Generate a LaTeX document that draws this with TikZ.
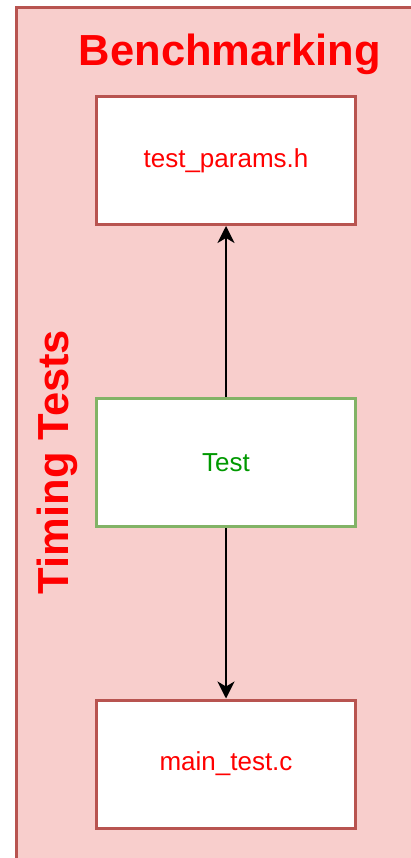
\documentclass[tikz,border=0pt]{standalone}
\usepackage{fontspec}
\setmainfont{Liberation Sans}
\usetikzlibrary{arrows.meta}

\definecolor{grpfill}{HTML}{F8CECC}
\definecolor{grpline}{HTML}{B85450}
\definecolor{okline}{HTML}{82B366}
\definecolor{oktext}{HTML}{009900}

\tikzset{
  filebox/.style={draw=grpline, fill=white, line width=3pt, minimum width=259pt,
    minimum height=128pt, text=red, font=\fontsize{26}{30}\selectfont},
  testbox/.style={filebox, draw=okline, text=oktext},
  link/.style={line width=1.8pt, -{Stealth[length=17pt,width=17pt,inset=5pt]}}
}

\begin{document}
\begin{tikzpicture}[x=1pt,y=-1pt]

\useasboundingbox (0,0) rectangle (411,858);
\clip (0,0) rectangle (411,858);

\draw[grpline, fill=grpfill, line width=3pt] (16.5,7.5) rectangle (440,890);

\node[text=red, font=\bfseries\fontsize{43.5}{48}\selectfont] (title) at (230,54) {Benchmarking};
\node[text=red, font=\bfseries\fontsize{43.5}{48}\selectfont, rotate=90] (side) at (57,462) {Timing Tests};

\node[filebox] (params) at (226,160.5) {test\_params.h};
\node[testbox] (test) at (226,462.5) {Test};
\node[filebox] (main) at (226,764) {main\_test.c};

\draw[link] (test) -- (params);
\draw[link] (test) -- (main);

\end{tikzpicture}
\end{document}
